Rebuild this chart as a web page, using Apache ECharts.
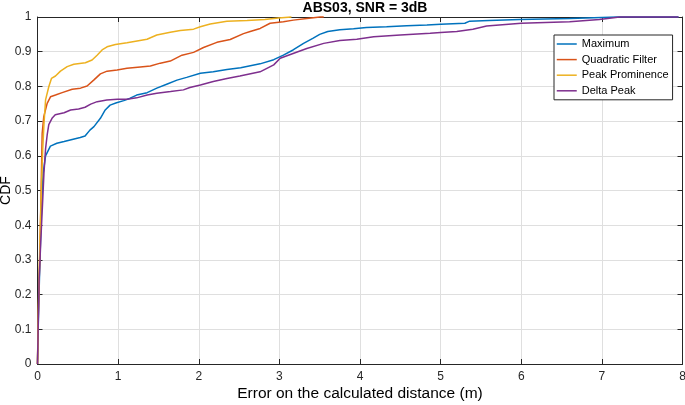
<!DOCTYPE html>
<html>
<head>
<meta charset="utf-8">
<script src="https://cdn.jsdelivr.net/npm/echarts@6/dist/echarts.min.js"></script>
<style>
  html, body { margin: 0; padding: 0; background: #fff; }
  #chart { width: 685px; height: 405px; }
</style>
</head>
<body>
<div id="chart"></div>
<script>
// ---- Data ----
const chartTitle = 'ABS03, SNR = 3dB';
const xAxisTitle = 'Error on the calculated distance (m)';
const yAxisTitle = 'CDF';
const seriesNames = ['Maximum', 'Quadratic Filter', 'Peak Prominence', 'Delta Peak'];
const seriesColors = ['#0072BD', '#D95319', '#EDB120', '#7E2F8E'];

const maximumX = [0, 0.01, 0.03, 0.05, 0.07, 0.10, 0.16, 0.24, 0.33, 0.43, 0.53, 0.59, 0.65, 0.70, 0.78, 0.84, 0.90, 0.98, 1.07, 1.15, 1.23, 1.36, 1.48, 1.61, 1.73, 1.85, 2.02, 2.18, 2.35, 2.52, 2.76, 2.93, 3.05, 3.17, 3.30, 3.42, 3.50, 3.60, 3.75, 3.92, 4.08, 4.33, 4.58, 4.83, 5.00, 5.30, 5.36, 5.60, 5.98, 6.60, 7.20, 7.95];
const maximumY = [0, 0.12, 0.30, 0.45, 0.55, 0.60, 0.628, 0.636, 0.641, 0.647, 0.653, 0.657, 0.674, 0.684, 0.708, 0.732, 0.746, 0.753, 0.759, 0.766, 0.775, 0.782, 0.795, 0.807, 0.818, 0.826, 0.838, 0.842, 0.849, 0.854, 0.865, 0.877, 0.890, 0.905, 0.924, 0.939, 0.950, 0.958, 0.963, 0.966, 0.970, 0.972, 0.975, 0.977, 0.979, 0.982, 0.988, 0.990, 0.993, 0.996, 1.0, 1.0];

const quadraticX = [0, 0.01, 0.03, 0.045, 0.058, 0.078, 0.12, 0.161, 0.223, 0.306, 0.43, 0.533, 0.615, 0.697, 0.78, 0.863, 0.987, 1.11, 1.276, 1.40, 1.523, 1.647, 1.792, 1.936, 2.059, 2.225, 2.39, 2.555, 2.638, 2.762, 2.885, 3.05, 3.174, 3.34, 3.505, 3.55];
const quadraticY = [0, 0.14, 0.33, 0.50, 0.665, 0.713, 0.751, 0.770, 0.775, 0.782, 0.792, 0.795, 0.801, 0.818, 0.836, 0.844, 0.847, 0.852, 0.856, 0.859, 0.867, 0.873, 0.890, 0.898, 0.912, 0.927, 0.935, 0.952, 0.958, 0.967, 0.982, 0.986, 0.991, 0.996, 1.0, 1.0];

const prominenceX = [0, 0.01, 0.03, 0.05, 0.065, 0.08, 0.10, 0.14, 0.173, 0.223, 0.285, 0.368, 0.45, 0.594, 0.677, 0.739, 0.801, 0.863, 0.966, 1.11, 1.235, 1.358, 1.48, 1.647, 1.771, 1.936, 2.019, 2.142, 2.349, 2.60, 2.82, 2.99, 3.15];
const prominenceY = [0, 0.15, 0.35, 0.52, 0.62, 0.69, 0.761, 0.799, 0.823, 0.830, 0.844, 0.857, 0.864, 0.868, 0.876, 0.890, 0.905, 0.914, 0.921, 0.926, 0.931, 0.936, 0.948, 0.956, 0.961, 0.965, 0.972, 0.980, 0.988, 0.990, 0.993, 0.997, 1.0];

const deltaX = [0, 0.01, 0.02, 0.04, 0.06, 0.08, 0.10, 0.12, 0.14, 0.18, 0.22, 0.33, 0.41, 0.51, 0.59, 0.66, 0.74, 0.86, 0.99, 1.11, 1.23, 1.36, 1.48, 1.65, 1.81, 1.89, 2.02, 2.18, 2.35, 2.51, 2.76, 2.93, 3.01, 3.17, 3.34, 3.55, 3.75, 3.96, 4.17, 4.50, 4.87, 5.00, 5.20, 5.40, 5.57, 6.00, 6.60, 6.97, 7.22, 7.95];
const deltaY = [0, 0.12, 0.24, 0.35, 0.45, 0.55, 0.62, 0.66, 0.69, 0.708, 0.718, 0.724, 0.732, 0.735, 0.740, 0.749, 0.756, 0.761, 0.763, 0.763, 0.767, 0.775, 0.780, 0.785, 0.790, 0.797, 0.804, 0.814, 0.823, 0.830, 0.842, 0.862, 0.881, 0.895, 0.909, 0.924, 0.932, 0.936, 0.943, 0.948, 0.953, 0.955, 0.958, 0.965, 0.974, 0.982, 0.986, 0.993, 1.0, 1.0];

const xTicks = { min: 0, max: 8, interval: 1 };
const yTicks = { min: 0, max: 1, interval: 0.1 };

// ---- Build ----
function pairs(xs, ys) { return xs.map((x, i) => [x, ys[i]]); }
const seriesData = [
  pairs(maximumX, maximumY),
  pairs(quadraticX, quadraticY),
  pairs(prominenceX, prominenceY),
  pairs(deltaX, deltaY)
];

const axisColor = '#262626';
const font = 'Liberation Sans, Arial, Helvetica, sans-serif';

const chart = echarts.init(document.getElementById('chart'), null, { renderer: 'canvas' });
chart.setOption({
  animation: false,
  backgroundColor: '#ffffff',
  title: {
    text: chartTitle,
    left: 360, top: -4,
    textAlign: 'center',
    textStyle: { fontFamily: font, fontSize: 14, fontWeight: 'bold', color: '#000' }
  },
  grid: { left: 37.5, right: 2.5, top: 17, bottom: 41, containLabel: false, outerBoundsMode: 'none' },
  legend: {
    orient: 'vertical',
    left: 554, top: 35,
    padding: [2, 4, 2, 2],
    itemWidth: 20, itemHeight: 14, itemGap: 1.6,
    borderColor: axisColor, borderWidth: 1,
    backgroundColor: '#fff',
    itemStyle: { opacity: 0 },
    lineStyle: { width: 1.5 },
    textStyle: { fontFamily: font, fontSize: 11, color: '#000', lineHeight: 14 },
    data: seriesNames
  },
  xAxis: [{
    type: 'value', ...xTicks,
    name: xAxisTitle, nameLocation: 'middle', nameGap: 22, nameMoveOverlap: false,
    nameTextStyle: { fontFamily: font, fontSize: 15.5, color: '#000' },
    axisLine: { show: true, lineStyle: { color: axisColor, width: 1 } },
    axisTick: { show: true, inside: true, length: 5, lineStyle: { color: axisColor } },
    axisLabel: { fontFamily: font, fontSize: 12, color: axisColor, margin: 7 },
    splitLine: { show: true, lineStyle: { color: '#dfdfdf', width: 1 } }
  }, {
    type: 'value', ...xTicks, position: 'top',
    axisLine: { show: true, onZero: false, lineStyle: { color: axisColor, width: 1 } },
    axisTick: { show: true, inside: true, length: 5, lineStyle: { color: axisColor } },
    axisLabel: { show: false }, splitLine: { show: false }
  }],
  yAxis: [{
    type: 'value', ...yTicks,
    name: yAxisTitle, nameLocation: 'middle', nameGap: 24, nameMoveOverlap: false,
    nameTextStyle: { fontFamily: font, fontSize: 14, color: '#000' },
    axisLine: { show: true, lineStyle: { color: axisColor, width: 1 } },
    axisTick: { show: true, inside: true, length: 5, lineStyle: { color: axisColor } },
    axisLabel: { fontFamily: font, fontSize: 12, color: axisColor, margin: 6,
      formatter: v => (Math.round(v * 10) / 10).toString() },
    splitLine: { show: true, lineStyle: { color: '#dfdfdf', width: 1 } }
  }, {
    type: 'value', ...yTicks, position: 'right',
    axisLine: { show: true, onZero: false, lineStyle: { color: axisColor, width: 1 } },
    axisTick: { show: true, inside: true, length: 5, lineStyle: { color: axisColor } },
    axisLabel: { show: false }, splitLine: { show: false }
  }],
  series: seriesNames.map((name, i) => ({
    name,
    type: 'line',
    xAxisIndex: 0, yAxisIndex: 0,
    data: seriesData[i],
    showSymbol: false, symbol: 'none',
    clip: false,
    color: seriesColors[i],
    lineStyle: { color: seriesColors[i], width: 1.5 }
  }))
});
</script>
</body>
</html>
